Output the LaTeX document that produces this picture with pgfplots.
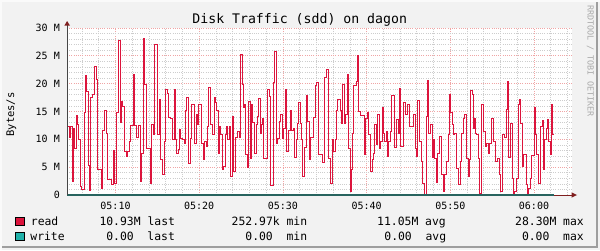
\documentclass[border=0pt]{standalone}
\usepackage{pgfplots}
\usepackage{pgfplotstable}
\pgfplotsset{compat=1.18}
\usepackage{fontspec}
\setmainfont{DejaVu Sans Mono}
\definecolor{bgc}{RGB}{242,242,242}
\definecolor{readc}{RGB}{220,20,60}
\definecolor{writec}{RGB}{32,178,170}
\definecolor{writeline}{RGB}{40,100,95}
\definecolor{mgrid}{RGB}{240,165,165}
\definecolor{ngrid}{RGB}{205,205,205}
\definecolor{arrowc}{RGB}{128,31,31}
\definecolor{axisc}{RGB}{70,70,70}
\definecolor{wmark}{RGB}{170,170,170}
% x = horizontal position of each step start, v = read rate in MB/s
\pgfplotstableread{
x v
67.0 8.7
67.7 12.3
69.7 10.4
70.3 12.3
72.3 2.4
73.3 12.0
74.7 8.3
76.3 14.2
77.3 12.6
78.0 10.0
80.7 1.5
81.7 1.0
84.0 14.9
85.0 21.4
86.7 18.6
88.0 5.3
89.0 0.8
90.7 17.5
92.7 18.0
94.0 23.1
96.0 20.7
97.3 4.5
101.3 1.1
102.3 11.5
104.7 15.2
106.0 11.1
107.3 2.7
111.0 1.8
113.3 8.0
114.7 2.1
116.0 14.9
118.7 27.7
120.0 13.0
121.3 16.8
122.7 15.9
124.0 7.8
126.0 6.9
127.3 7.8
129.3 9.7
130.7 12.4
133.3 21.7
134.7 12.4
136.0 10.4
138.7 12.4
140.0 7.5
140.7 2.4
141.3 7.5
143.0 28.1
144.3 19.8
146.0 8.4
150.0 2.1
151.3 12.7
153.3 10.8
154.7 27.1
157.3 10.8
159.3 17.2
160.7 6.3
162.0 3.6
164.0 9.7
165.3 19.0
167.3 18.3
168.7 14.0
170.0 13.7
172.0 9.9
174.0 18.9
175.3 9.9
176.7 7.5
178.0 8.1
179.3 11.7
180.7 10.2
182.7 9.9
184.0 9.3
185.3 15.2
186.7 17.5
188.0 5.7
190.0 10.2
191.3 16.2
194.7 9.3
196.0 14.4
197.3 12.6
198.7 16.3
201.3 9.3
203.3 6.3
204.7 9.6
206.0 8.7
207.3 12.3
208.7 19.3
210.7 12.6
212.7 10.9
214.0 17.5
215.3 16.6
216.7 15.1
218.0 7.5
219.3 12.3
220.7 10.8
222.7 4.5
224.0 5.1
225.3 10.8
226.7 12.3
228.0 9.9
229.0 12.3
230.7 3.3
232.0 14.1
234.0 4.3
235.3 10.4
237.3 11.4
239.3 10.4
240.7 25.3
242.0 19.8
243.3 15.7
244.7 16.2
246.0 7.2
247.3 4.9
248.7 16.8
250.0 6.6
251.3 16.2
252.7 13.0
254.7 7.5
256.0 12.6
257.3 14.1
258.7 17.4
260.0 11.1
261.3 12.7
262.7 13.8
264.0 6.5
267.3 19.0
269.3 17.7
270.7 1.7
273.3 20.2
274.7 25.8
276.7 9.3
277.3 10.2
279.3 13.2
280.7 14.4
282.0 10.2
283.3 12.0
285.3 18.9
286.7 7.9
288.7 11.5
290.0 15.1
291.3 11.5
293.3 11.9
294.7 6.7
296.0 9.9
297.3 12.9
298.7 16.6
300.0 12.9
301.3 9.9
302.7 3.3
304.7 8.5
306.7 17.8
308.0 13.2
309.3 6.3
310.7 10.4
312.0 10.4
313.3 13.9
315.3 19.6
316.7 20.2
318.7 7.3
322.7 5.8
324.7 21.1
326.7 22.5
328.7 6.6
330.7 2.1
332.0 9.9
333.3 7.8
335.3 9.9
336.7 15.1
338.0 17.2
340.0 15.1
341.3 12.9
342.7 19.8
344.0 12.9
345.3 14.4
347.3 21.6
348.7 8.4
350.0 0.6
351.3 4.5
352.7 11.1
354.0 19.6
356.0 20.4
357.3 25.1
358.7 15.0
360.0 14.3
364.0 7.2
365.3 13.8
367.3 14.9
368.7 10.8
370.7 4.3
372.0 6.3
373.3 7.5
374.7 12.6
376.0 9.1
378.0 14.4
379.3 8.4
380.7 9.7
382.0 15.7
383.3 11.1
384.7 9.6
386.0 11.4
387.3 6.9
388.7 9.6
390.0 11.4
391.3 17.8
394.0 8.5
396.0 13.6
398.0 11.1
399.3 19.2
400.7 8.7
403.3 16.6
405.3 14.5
407.3 16.3
409.3 12.3
413.3 14.4
415.3 8.3
416.7 6.9
418.0 16.9
419.3 9.6
421.3 6.1
422.7 2.1
424.7 0.1
426.0 14.1
427.3 20.5
428.7 11.1
430.0 12.6
432.0 6.7
433.3 9.9
434.7 6.6
436.0 2.3
437.3 7.5
439.3 10.5
441.3 3.6
443.3 0.6
444.7 3.6
446.0 6.1
448.0 10.8
449.3 18.0
450.7 14.9
452.0 12.6
453.3 10.8
454.7 11.1
456.0 4.7
458.7 1.8
460.7 6.0
462.0 11.1
463.3 13.8
464.7 14.4
466.7 6.6
468.0 3.3
469.3 6.3
470.7 18.7
472.0 18.0
473.3 12.0
474.7 13.8
475.3 11.1
476.7 10.8
478.0 6.6
479.3 0.3
481.3 16.3
483.3 11.4
485.3 8.7
486.7 9.3
488.0 7.5
489.3 9.3
491.3 13.8
493.3 9.7
495.3 6.1
497.3 6.5
499.3 3.6
500.7 0.7
502.7 10.9
504.7 10.3
506.0 15.3
507.3 20.4
508.7 6.7
510.0 12.9
512.0 2.9
513.3 0.1
514.7 0.6
516.7 2.9
518.0 16.3
519.3 17.2
520.7 12.9
522.0 5.1
523.3 7.3
526.0 1.8
527.3 0.1
528.7 1.2
530.0 3.0
532.0 7.1
534.0 15.7
535.3 10.8
536.7 7.2
538.0 2.1
540.0 12.3
542.0 13.3
543.3 4.5
544.7 10.0
546.0 12.0
547.3 13.6
548.7 9.6
550.0 7.3
551.3 16.2
552.7 10.93
554.0 10.93
}\readdata
\begin{document}
\begin{tikzpicture}[x=1pt,y=1pt]
\path[use as bounding box] (0,0) rectangle (600,250);
\fill[bgc] (0,0) rectangle (600,250);
% frame
\fill[white!60!bgc] (0,248) rectangle (600,250);
\fill[white!60!bgc] (0,0) rectangle (2,250);
\fill[black!38] (2,2) rectangle (598,4);
\fill[black!38] (596,2) rectangle (598,248);
\begin{axis}[
  at={(67pt,55pt)}, anchor=south west, scale only axis,
  width=505pt, height=167pt,
  x filter/.expression={(x-115.5)/8.37+10},
  xmin=4.2055, xmax=64.54, ymin=0, ymax=30,
  axis line style={draw=none},
  axis background/.style={fill=white},
  xtick={10,20,30,40,50,60},
  xticklabels={05:10,05:20,05:30,05:40,05:50,06:00},
  minor xtick={6,8,12,14,16,18,22,24,26,28,32,34,36,38,42,44,46,48,52,54,56,58,62,64},
  ytick={0,5,10,15,20,25,30},
  yticklabels={0,5 M,10 M,15 M,20 M,25 M,30 M},
  minor ytick={1,2,3,4,6,7,8,9,11,12,13,14,16,17,18,19,21,22,23,24,26,27,28,29},
  grid=both,
  major grid style={mgrid, line width=0.7pt, dash pattern=on 1pt off 1.2pt},
  minor grid style={ngrid, line width=0.7pt, dash pattern=on 1pt off 1.2pt},
  major tick length=0pt, minor tick length=0pt,
  xticklabel style={font=\fontsize{10}{12}\selectfont, anchor=base, inner sep=0pt, yshift=-14.3pt},
  yticklabel style={font=\fontsize{10}{12}\selectfont, anchor=east, inner sep=0pt, xshift=-7pt},
]
\addplot[const plot, readc, line width=1pt] table[x=x, y=v] {\readdata};
\addplot[const plot, writeline, line width=1.2pt] coordinates {(67,0) (554,0)};
\end{axis}
% axes and arrows
\draw[axisc, line width=0.9pt] (67,55) -- (67,225);
\fill[arrowc] (64.3,224.3) -- (70,224.3) -- (67.1,229) -- cycle;
\draw[arrowc, line width=0.9pt] (554,55) -- (572,55);
\fill[arrowc] (571.7,52.4) -- (571.7,57.6) -- (577,55) -- cycle;
% title, labels
\node[anchor=base, inner sep=0pt, font=\fontsize{13.2}{15}\selectfont] at (299.7,226.5) {Disk Traffic (sdd) on dagon};
\node[anchor=base, rotate=90, inner sep=0pt, font=\fontsize{10.5}{12}\selectfont] at (14,135.5) {Bytes/s};
\node[anchor=base west, rotate=-90, inner sep=0pt, text=wmark, font=\fontsize{8.4}{10}\selectfont] at (587.5,245) {RRDTOOL / TOBI OETIKER};
% legend
\filldraw[fill=readc, draw=black, line width=0.7pt] (15.3,24.2) rectangle (24,32.6);
\filldraw[fill=writec, draw=black, line width=0.7pt] (15.3,9.6) rectangle (24,18);
\begin{scope}[every node/.style={anchor=base west, inner sep=0pt, font=\fontsize{11.4}{13}\selectfont}]
\node at (30.7,24.7) {read};
\node at (99.3,24.7) {10.93M last};
\node at (231.5,24.7) {252.97k min};
\node at (377,24.7) {11.05M avg};
\node at (515,24.7) {28.30M max};
\node at (30.2,10) {write};
\node at (106.1,10) {0.00\ \ last};
\node at (245.2,10) {0.00\ \ min};
\node at (384.2,10) {0.00\ \ avg};
\node at (521.8,10) {0.00\ \ max};
\end{scope}
\end{tikzpicture}
\end{document}
